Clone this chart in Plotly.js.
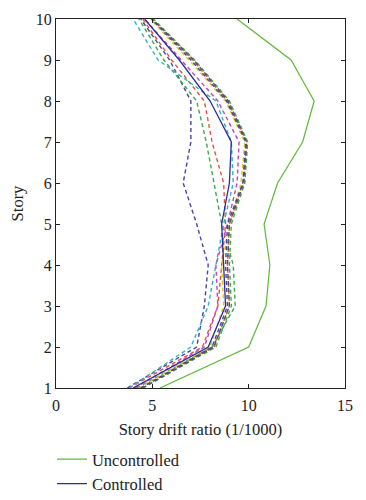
<!DOCTYPE html>
<html>
<head>
<meta charset="utf-8">
<script src="https://cdn.plot.ly/plotly-3.0.1.min.js"></script>
<style>html,body{margin:0;padding:0;background:#fff;}#chart{width:366px;height:500px;}</style>
</head>
<body>
<div id="chart"></div>
<script>
// Story levels
const stories = [1, 2, 3, 4, 5, 6, 7, 8, 9, 10];
// Story drift ratio (1/1000)
const uncontrolled = [5.4, 10.0, 10.9, 11.1, 10.8, 11.5, 12.8, 13.4, 12.2, 9.4];
const controlled   = [4.0, 7.9, 8.8, 8.7, 8.6, 9.0, 9.1, 8.0, 6.4, 4.6];
// Individual records (dashed)
const recBlue    = [3.7, 7.3, 7.7, 7.9, 7.3, 6.6, 7.0, 7.0, 5.9, 4.4];
const recGreen   = [4.2, 8.1, 9.3, 9.2, 8.6, 8.2, 7.8, 7.3, 5.6, 4.3];
const recRed     = [3.8, 7.6, 8.4, 8.6, 8.8, 8.7, 8.1, 7.7, 6.0, 4.5];
const recCyan    = [3.8, 7.0, 7.9, 8.3, 8.7, 9.2, 9.1, 8.3, 5.3, 4.0];
const recMagenta = [4.1, 7.7, 8.4, 8.3, 8.9, 9.4, 9.5, 8.4, 6.5, 4.6];
const recYellow  = [4.3, 8.0, 8.7, 8.6, 9.0, 9.6, 9.8, 8.8, 6.9, 4.9];
const recRed2    = [4.4, 8.2, 9.0, 8.9, 9.0, 9.7, 9.9, 8.9, 7.1, 5.0];
const recGreen2  = [4.5, 8.3, 9.1, 9.0, 9.1, 9.8, 9.95, 9.0, 7.2, 5.05];
const recBlue2   = [4.4, 8.1, 8.9, 8.8, 8.9, 9.7, 9.85, 8.85, 7.0, 4.95];
const recBlack   = [4.5, 8.2, 9.0, 8.9, 9.0, 9.75, 9.9, 8.95, 7.15, 5.0];

const xTicks = [0, 5, 10, 15];
const yTicks = [1, 2, 3, 4, 5, 6, 7, 8, 9, 10];

const dashed = [
  [recBlue, '#4a44a8'], [recGreen, '#3fa84f'], [recRed, '#e0553f'],
  [recCyan, '#2fb5c0'], [recMagenta, '#bf45c0'], [recYellow, '#d9cf10'],
  [recRed2, '#e0553f'], [recGreen2, '#3fa84f'], [recBlue2, '#4a44a8'], [recBlack, '#555555']
];

const traces = dashed.map(([vals, col]) => ({
  x: vals, y: stories, type: 'scatter', mode: 'lines',
  line: {color: col, width: 1.4, dash: '4px,3px'}, showlegend: false, hoverinfo: 'skip'
}));
traces.push({x: uncontrolled, y: stories, type: 'scatter', mode: 'lines', name: 'Uncontrolled',
  line: {color: '#5fb838', width: 1.2}});
traces.push({x: controlled, y: stories, type: 'scatter', mode: 'lines', name: 'Controlled',
  line: {color: '#2e2a96', width: 1.3}});

const fontFam = 'Liberation Serif, Times New Roman, serif';
const layout = {
  width: 366, height: 500,
  margin: {l: 56, r: 21, t: 19, b: 112, autoexpand: false},
  paper_bgcolor: '#fff', plot_bgcolor: '#fff',
  font: {family: fontFam, size: 16, color: '#222'},
  xaxis: {
    range: [0, 15], tickvals: xTicks, ticktext: xTicks.map(String),
    showgrid: false, zeroline: false, showline: true, linecolor: '#222', linewidth: 1,
    mirror: 'ticks', ticks: 'inside', ticklen: 4, tickcolor: '#222',
    ticklabelstandoff: 3,
    title: {text: 'Story drift ratio (1/1000)', font: {family: fontFam, size: 16.5}, standoff: 10},
    tickfont: {family: fontFam, size: 16}
  },
  yaxis: {
    range: [1, 10], tickvals: yTicks, ticktext: yTicks.map(String),
    showgrid: false, zeroline: false, showline: true, linecolor: '#222', linewidth: 1,
    mirror: 'ticks', ticks: 'inside', ticklen: 4, tickcolor: '#222',
    title: {text: 'Story', font: {family: fontFam, size: 16.5}, standoff: 8},
    tickfont: {family: fontFam, size: 16}
  },
  showlegend: true,
  legend: {x: -0.014, xanchor: 'left', y: -0.146, yanchor: 'top', orientation: 'v',
    font: {family: fontFam, size: 16.5}, bgcolor: 'rgba(0,0,0,0)', tracegroupgap: 0}
};
Plotly.newPlot('chart', traces, layout, {displayModeBar: false, staticPlot: true});
</script>
</body>
</html>
